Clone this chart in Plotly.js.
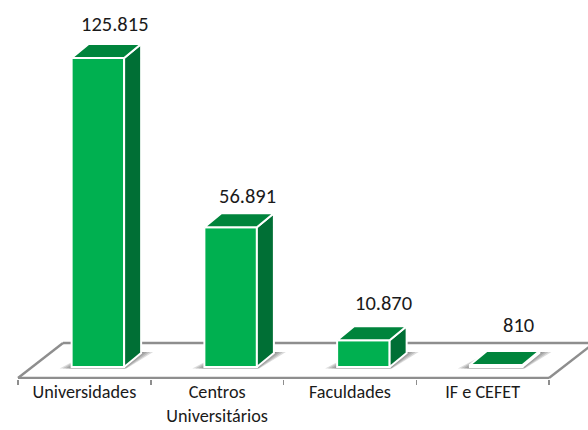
<!DOCTYPE html>
<html><head><meta charset="utf-8">
<script src="https://cdn.plot.ly/plotly-3.0.1.min.js"></script>
<style>html,body{margin:0;padding:0;background:#fff}#c{width:588px;height:430px}</style>
</head><body><div id="c"></div>
<script>
// --- data ---
const categories = ["Universidades", "Centros<br>Universitários", "Faculdades", "IF e CEFET"];
const values = [125815, 56891, 10870, 810];

// --- styles ---
const FRONT = "#00B050", TOP = "#00843C", SIDE = "#006F35", FLOOR = "#8E8E8E";
const FONT = "Carlito, Calibri, Lato, sans-serif";
const W = 588, H = 430;
const catPx = 132.75, axisLeftPx = 18;          // category band width, first tick
const zeroPx = 367, bottomPx = 379;             // y pixel of value 0, plot bottom
const pxPerUnit = 309 / 125815;                 // vertical scale
const barPx = 52.5, barShiftPx = 13.5;          // front-face width, shift in the band
const depthX = 17, depthY = 14;                 // 3D bar depth
const floorX = 45, floorY = 35;                 // 3D floor depth
const ux = 1 / catPx, uy = 1 / pxPerUnit;       // data units per pixel
const xRange = [-0.5 - axisLeftPx * ux, -0.5 + (W - axisLeftPx) * ux];
const yRange = [-(bottomPx - zeroPx) * uy, zeroPx * uy];
const idx = categories.map((_, i) => i);
const bands = categories.map((_, i) => i - 0.5).concat([categories.length - 0.5]);
const halfBar = barPx / 2 * ux, shift = barShiftPx * ux;
const fmt = v => String(v).replace(/\B(?=(\d{3})+$)/g, ".");
const labelNudgeX = [0, 0, 3, 5], labelNudgeY = [0, -3, 3, 6];

const L = i => i + shift - halfBar, R = i => i + shift + halfBar;
const path = pts => "M" + pts.map(p => p.join(" ")).join("L") + "Z";

// floor + shadows live under the traces
const shapes = [];
const x0 = bands[0], x1 = bands[bands.length - 1];
const fy = -(378 - zeroPx) * uy;                // front edge of the floor
const fyBack = fy + floorY * uy;
[[x0, fy, x1, fy], [x0 + floorX * ux, fyBack, x1 + floorX * ux, fyBack],
 [x0, fy, x0 + floorX * ux, fyBack], [x1, fy, x1 + floorX * ux, fyBack]].forEach(s => shapes.push({
  type: "line", layer: "below", xref: "x", yref: "y", x0: s[0], y0: s[1], x1: s[2], y1: s[3],
  line: {color: FLOOR, width: 2.4}
}));
idx.forEach(i => [12, 9, 6, 3].forEach(m => shapes.push({
  type: "path", layer: "below", xref: "x", yref: "y", line: {width: 0},
  fillcolor: "rgba(50,50,50,0.17)",
  path: path([
    [L(i) - m * ux, -1.5 * uy], [R(i) + m * 0.2 * ux, -1.5 * uy],
    [R(i) + (depthX + m) * ux, (depthY + 1) * uy], [L(i) + (depthX + m * 0.2) * ux, (depthY + 1) * uy]
  ])
})));

const edge = {color: "#FFFFFF", width: 2};
const traces = [{
  type: "bar", x: idx, y: values, base: 0, width: barPx * ux, offset: shift - halfBar,
  marker: {color: FRONT, line: edge}, hoverinfo: "skip", showlegend: false, cliponaxis: false
}];
idx.forEach(i => {
  const v = values[i];
  traces.push({
    type: "scatter", mode: "lines", fill: "toself", fillcolor: SIDE, line: edge, hoverinfo: "skip", showlegend: false,
    x: [R(i), R(i) + depthX * ux, R(i) + depthX * ux, R(i), R(i)],
    y: [v, v + depthY * uy, depthY * uy, 0, v]
  });
  traces.push({
    type: "scatter", mode: "lines", fill: "toself", fillcolor: TOP, line: edge, hoverinfo: "skip", showlegend: false,
    x: [L(i), L(i) + depthX * ux, R(i) + depthX * ux, R(i), L(i)],
    y: [v, v + depthY * uy, v + depthY * uy, v, v]
  });
});

const annotations = idx.map(i => ({
  xref: "x", yref: "y", x: i + shift + depthX * ux, y: values[i] + depthY * uy,
  text: fmt(values[i]), showarrow: false, xanchor: "center", yanchor: "middle",
  xshift: labelNudgeX[i], yshift: 20 + labelNudgeY[i],
  font: {family: FONT, size: 20.5, color: "#1A1A1A"}
}));

const layout = {
  width: W, height: H, margin: {l: 0, r: 0, t: 0, b: H - bottomPx, pad: 0},
  paper_bgcolor: "#fff", plot_bgcolor: "#fff", showlegend: false, bargap: 0,
  xaxis: {
    type: "linear", range: xRange, tickmode: "array", tickvals: bands, ticktext: bands.map(() => ""),
    ticks: "outside", ticklen: 5, tickwidth: 1.5, tickcolor: FLOOR, showgrid: false, zeroline: false, showline: false,
    fixedrange: true
  },
  xaxis2: {
    type: "linear", overlaying: "x", side: "bottom", anchor: "y", range: xRange, tickmode: "array", tickvals: idx,
    ticktext: categories,
    ticks: "", tickfont: {family: FONT, size: 18.2, color: "#1A1A1A"}, ticklabelstandoff: 5.5,
    tickangle: 0, showgrid: false, zeroline: false, showline: false, fixedrange: true
  },
  yaxis: {range: yRange, visible: false, fixedrange: true},
  shapes, annotations
};
// a hidden trace keeps the label axis alive
traces.push({type: "scatter", mode: "none", x: idx, y: values, xaxis: "x2", yaxis: "y", hoverinfo: "skip", showlegend: false});
Plotly.newPlot("c", traces, layout, {displayModeBar: false, staticPlot: true});
</script></body></html>
